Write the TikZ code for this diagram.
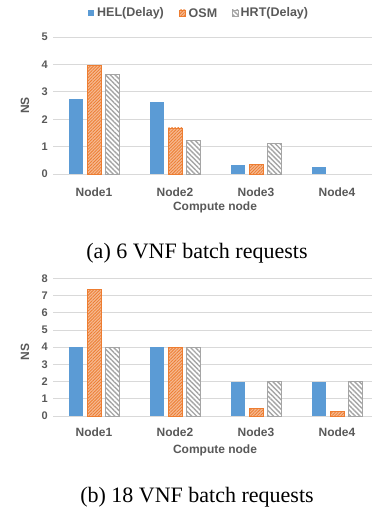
\documentclass[tikz,border=0pt]{standalone}
\usepackage{fontspec}
\setmainfont{Liberation Serif}
\setsansfont{Liberation Sans}
\usetikzlibrary{patterns.meta}
\definecolor{helc}{HTML}{5B9BD5}
\definecolor{osmc}{HTML}{ED7D31}
\definecolor{osmfill}{HTML}{F6B992}
\definecolor{hrtc}{HTML}{A5A5A5}
\definecolor{gridc}{HTML}{D9D9D9}
\definecolor{txtc}{HTML}{595959}
\begin{document}
\begin{tikzpicture}[x=1pt,y=-1pt,
 lab/.style={font=\sffamily\bfseries\fontsize{12}{14}\selectfont, text=txtc, inner sep=0pt},
 leg/.style={font=\sffamily\bfseries\fontsize{12.5}{14}\selectfont, text=txtc, inner sep=0pt, anchor=west},
 tck/.style={font=\sffamily\bfseries\fontsize{11}{13}\selectfont, text=txtc, inner sep=0pt, anchor=east},
 capt/.style={font=\fontsize{22}{26}\selectfont, inner sep=0pt},
 gridln/.style={draw=gridc, line width=0.8pt},
 helbar/.style={fill=helc},
 osmbar/.style={draw=osmc, line width=0.8pt, fill=osmfill, postaction={pattern={Lines[angle=45,distance=2.2pt,line width=0.8pt]}, pattern color=osmc}},
 hrtbar/.style={draw=hrtc, line width=0.8pt, fill=white, postaction={pattern={Lines[angle=-45,distance=3.4pt,line width=1.4pt]}, pattern color=hrtc}},
]
\useasboundingbox (0,0) rectangle (376,508);
% legend
\fill[helc] (88.3,10) rectangle (93.8,16.5);
\node[leg] (lhel) at (97,13.3) {HEL(Delay)};
\path[osmbar,line width=0.5pt] (179.5,10) rectangle (185.5,16.5);
\node[leg] (losm) at (188.5,13.3) {OSM};
\path[hrtbar,line width=0.5pt] (232,10) rectangle (238,16.5);
\node[leg] (lhrt) at (240.5,13.3) {HRT(Delay)};
% ---------- top chart ----------
\foreach \y in {0,...,5} {
  \draw[gridln] (53,174-27.4*\y) -- (372,174-27.4*\y);
  \node[tck] (ta\y) at (48,174-27.4*\y) {\y};
}
\node[lab,rotate=90] (nsa) at (25,105.5) {NS};
\foreach \i/\v in {0/2.75,1/2.63,2/0.32,3/0.25}
  \path[helbar] (69+81*\i,174) rectangle (83+81*\i,174-27.4*\v);
\foreach \i/\v in {0/3.97,1/1.68,2/0.35}
  \path[osmbar] (87.5+81*\i,174) rectangle (101.5+81*\i,174-27.4*\v);
\foreach \i/\v in {0/3.63,1/1.23,2/1.1}
  \path[hrtbar] (105.5+81*\i,174) rectangle (119+81*\i,174-27.4*\v);
\foreach \i in {1,...,4}
  \node[lab] (na\i) at (94+81*\i-81,192.5) {Node\i};
\node[lab] (xa) at (215,207.5) {Compute node};
\node[capt] (capa) at (197,253) {(a) 6 VNF batch requests};
% ---------- bottom chart ----------
\foreach \y in {0,...,8} {
  \draw[gridln] (53,416-17.2*\y) -- (372,416-17.2*\y);
  \node[tck] (tb\y) at (48,416-17.2*\y) {\y};
}
\node[lab,rotate=90] (nsb) at (25,352) {NS};
\foreach \i/\v in {0/4,1/4,2/2,3/2}
  \path[helbar] (69+81*\i,416) rectangle (83+81*\i,416-17.2*\v);
\foreach \i/\v in {0/7.35,1/4,2/0.45,3/0.25}
  \path[osmbar] (87.5+81*\i,416) rectangle (101.5+81*\i,416-17.2*\v);
\foreach \i/\v in {0/4,1/4,2/2,3/2}
  \path[hrtbar] (105.5+81*\i,416) rectangle (119+81*\i,416-17.2*\v);
\foreach \i in {1,...,4}
  \node[lab] (nb\i) at (94+81*\i-81,432) {Node\i};
\node[lab] (xb) at (215,450) {Compute node};
\node[capt] (capb) at (197,497) {(b) 18 VNF batch requests};
\end{tikzpicture}
\end{document}
